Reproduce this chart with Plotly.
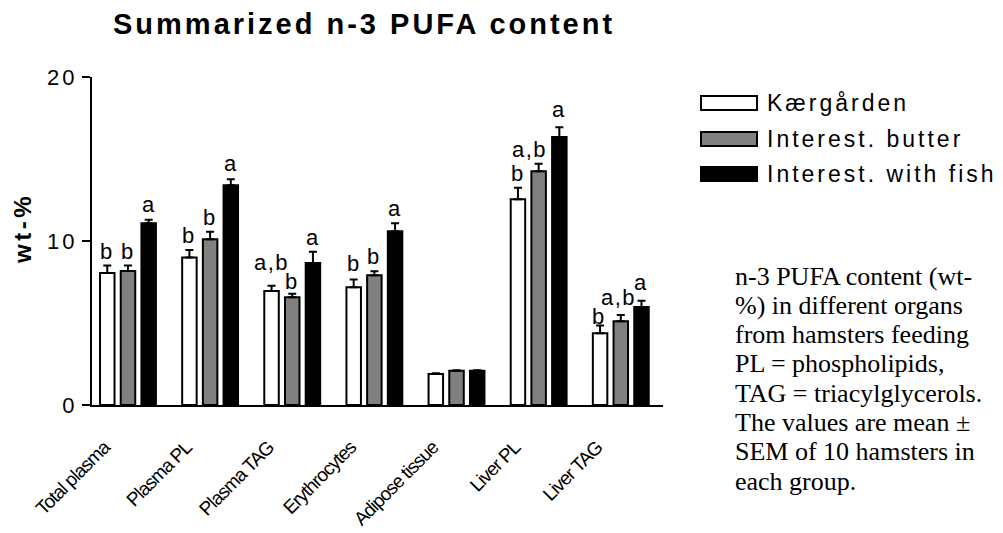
import plotly.graph_objects as go

# ---------------- data ----------------
categories = ["Total plasma", "Plasma PL", "Plasma TAG", "Erythrocytes",
              "Adipose tissue", "Liver PL", "Liver TAG"]
series_names = ["Kærgården", "Interest. butter", "Interest. with fish"]

kaergarden = [8.05, 9.0, 6.95, 7.18, 1.89, 12.54, 4.37]
kaergarden_sem = [0.45, 0.45, 0.32, 0.48, 0.05, 0.71, 0.47]
butter = [8.17, 10.1, 6.57, 7.91, 2.09, 14.25, 5.1]
butter_sem = [0.33, 0.47, 0.22, 0.24, 0.03, 0.46, 0.39]
fish = [11.08, 13.4, 8.66, 10.6, 2.09, 16.34, 5.98]
fish_sem = [0.22, 0.36, 0.69, 0.48, 0.03, 0.59, 0.38]

kaergarden_letters = ["b", "b", "a,b", "b", "", "b", "b"]
butter_letters = ["b", "b", "b", "b", "", "a,b", "a,b"]
fish_letters = ["a", "a", "a", "a", "", "a", "a"]

y_ticks = [0, 10, 20]
y_title = "wt-%"
chart_title = "Summarized n-3 PUFA content"
note_lines = [
    "n-3 PUFA content (wt-",
    "%) in different organs",
    "from hamsters feeding",
    "PL = phospholipids,",
    "TAG = triacylglycerols.",
    "The values are mean ±",
    "SEM of 10 hamsters in",
    "each group.",
]

# ---------------- style ----------------
SANS = "Arial, 'Liberation Sans', sans-serif"
SERIF = "'Times New Roman', 'Liberation Serif', serif"
fills = ["white", "#808080", "black"]
BARGAP = 0.244
slot = (1 - BARGAP) / 3
offsets = [-slot, 0, slot]
# per-label pixel nudges (xshift, yshift) to mimic the reference placement
label_nudges = [
    [(0, 0), (0, 0), (0, 9), (0, 1), (0, 0), (0, 0), (-1, -5)],
    [(0, 0), (0, 0), (0, -2), (0, 0), (0, 0), (-9, 0), (-2, 3)],
    [(0, 1), (0, 1), (0, 0), (0, 0), (0, 0), (0, 3), (0, 4)],
]

# plot area in pixels
W, H = 1003, 533
L, R, T, B = 92, 663, 77, 405
pw, ph = R - L, B - T


def px_x(x):
    return (x - L) / pw


def px_y(y):
    return (B - y) / ph


def sp(text, ls):
    return f"<span style='letter-spacing:{ls}px'>{text}</span>"


values = [kaergarden, butter, fish]
sems = [kaergarden_sem, butter_sem, fish_sem]
letters = [kaergarden_letters, butter_letters, fish_letters]

fig = go.Figure()
for i in range(3):
    fig.add_trace(go.Bar(
        x=categories, y=values[i], name=series_names[i],
        marker=dict(color=fills[i], line=dict(color="black", width=2)),
        error_y=dict(type="data", symmetric=False, array=sems[i],
                     arrayminus=[0] * len(categories),
                     thickness=2, width=4, color="black"),
        showlegend=False,
    ))

annotations = []
# significance letters
for i in range(3):
    for j, lab in enumerate(letters[i]):
        if not lab:
            continue
        dx, dy = label_nudges[i][j]
        annotations.append(dict(
            x=j + offsets[i], y=values[i][j] + sems[i][j], xref="x", yref="y",
            text=sp(lab, 1.5), showarrow=False, xanchor="center", yanchor="bottom",
            xshift=dx, yshift=dy, font=dict(family=SANS, size=22, color="black"),
        ))

# title
annotations.append(dict(
    x=px_x(364), y=px_y(24), xref="paper", yref="paper",
    text=sp(chart_title, 3), showarrow=False, xanchor="center", yanchor="middle",
    font=dict(family=SANS, size=29, color="black", weight="bold"),
))
# y axis title
annotations.append(dict(
    x=px_x(22), y=px_y(229), xref="paper", yref="paper", textangle=-90,
    text=sp(y_title, 3.5), showarrow=False, xanchor="center", yanchor="middle",
    font=dict(family=SANS, size=24, color="black", weight="bold"),
))

# manual legend
shapes = []
leg_y = [103, 139, 174]
for i in range(3):
    shapes.append(dict(
        type="rect", xref="paper", yref="paper",
        x0=px_x(701), x1=px_x(757), y0=px_y(leg_y[i] + 7), y1=px_y(leg_y[i] - 7),
        fillcolor=fills[i], line=dict(color="black", width=2),
    ))
    annotations.append(dict(
        x=px_x(765), y=px_y(leg_y[i]), xref="paper", yref="paper",
        text=sp(series_names[i], 3), showarrow=False, xanchor="left", yanchor="middle",
        font=dict(family=SANS, size=23, color="black"),
    ))

# note text on the right
for k, line in enumerate(note_lines):
    annotations.append(dict(
        x=px_x(733), y=px_y(276 + 29.3 * k), xref="paper", yref="paper",
        text=line, showarrow=False, xanchor="left", yanchor="middle",
        font=dict(family=SERIF, size=26, color="black"),
    ))

fig.update_layout(
    width=W, height=H,
    margin=dict(l=L, r=W - R, t=T, b=H - B, pad=0, autoexpand=False),
    paper_bgcolor="white", plot_bgcolor="white",
    barmode="group", bargap=BARGAP, bargroupgap=0.3,
    annotations=annotations, shapes=shapes,
    showlegend=False,
)
fig.update_xaxes(
    range=[-0.438, 6.514], showline=True, linecolor="black", linewidth=2,
    showgrid=False, zeroline=False, ticks="", automargin=False,
    tickvals=categories, ticktext=[sp(c, -1) for c in categories],
    tickangle=-45, tickfont=dict(family=SANS, size=19, color="black"),
    ticklabelstandoff=22, ticklabelshift=-24,
)
fig.update_yaxes(
    range=[0, 20], showline=True, linecolor="black", linewidth=2,
    showgrid=False, zeroline=False, ticks="outside", ticklen=8, tickwidth=2,
    automargin=False,
    tickcolor="black", tickvals=y_ticks, ticktext=[sp(str(t), 3) for t in y_ticks],
    tickfont=dict(family=SANS, size=22, color="black"),
)

fig.write_html("out.html")
